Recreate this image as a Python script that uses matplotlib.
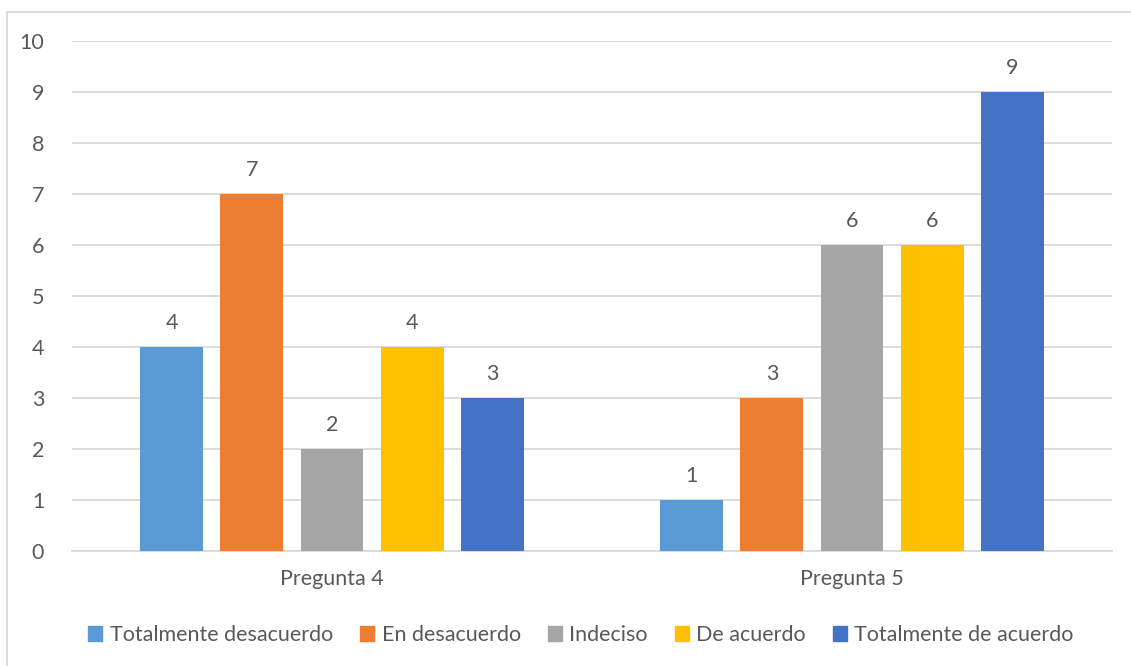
import matplotlib.pyplot as plt
import matplotlib.patches as mpatches
import numpy as np

plt.rcParams['font.family'] = ['Lato', 'DejaVu Sans']

# Data
categories = ['Pregunta 4', 'Pregunta 5']
series = ['Totalmente desacuerdo', 'En desacuerdo', 'Indeciso', 'De acuerdo', 'Totalmente de acuerdo']
values = [
    [4, 1],
    [7, 3],
    [2, 6],
    [4, 6],
    [3, 9],
]
colors = ['#5B9BD5', '#ED7D31', '#A5A5A5', '#FFC000', '#4472C4']
text_color = '#595959'
fs = 15.5

W, H = 1131, 666
fig = plt.figure(figsize=(W / 100, H / 100), dpi=100, facecolor='white')

# outer chart border (Excel style), runs off the right and bottom edges
fig.add_artist(mpatches.Rectangle((7 / W, -0.3), 1.5, 1.3 - 12 / H, transform=fig.transFigure,
                                  fill=False, edgecolor='#D9D9D9', linewidth=1.3))

ax = fig.add_axes([72 / W, 1 - 551 / H, (1112 - 72) / W, (551 - 41) / H])

x = np.arange(len(categories))
width = 0.121
step = 0.154
offsets = (np.arange(len(series)) - 2) * step

for i, name in enumerate(series):
    bars = ax.bar(x + offsets[i], values[i], width, color=colors[i], label=name, zorder=3)
    for b, v in zip(bars, values[i]):
        ax.text(b.get_x() + b.get_width() / 2, v + 0.28, str(v), ha='center', va='bottom',
                fontsize=fs, color=text_color)

ax.set_xlim(-0.5, 1.5)
ax.set_ylim(0, 10)
ax.set_yticks(range(0, 11))
ax.yaxis.grid(True, color='#D9D9D9', linewidth=1.3, zorder=0)
ax.set_axisbelow(True)
for s in ['top', 'right', 'left']:
    ax.spines[s].set_visible(False)
ax.spines['bottom'].set_color('#D9D9D9')
ax.spines['bottom'].set_linewidth(1.3)
ax.tick_params(axis='both', length=0, labelsize=fs, labelcolor=text_color)
ax.tick_params(axis='y', pad=20)
ax.tick_params(axis='x', pad=13)
ax.set_xticks(x)
ax.set_xticklabels(categories)

handles = [mpatches.Patch(color=c) for c in colors]
fig.legend(handles, series, loc='center', bbox_to_anchor=(581 / W, 1 - 635 / H), ncol=5,
           frameon=False, fontsize=fs, labelcolor=text_color, handlelength=0.65,
           handleheight=0.65, handletextpad=0.35, columnspacing=1.25)

fig.savefig('out.png', dpi=100, facecolor='white')
